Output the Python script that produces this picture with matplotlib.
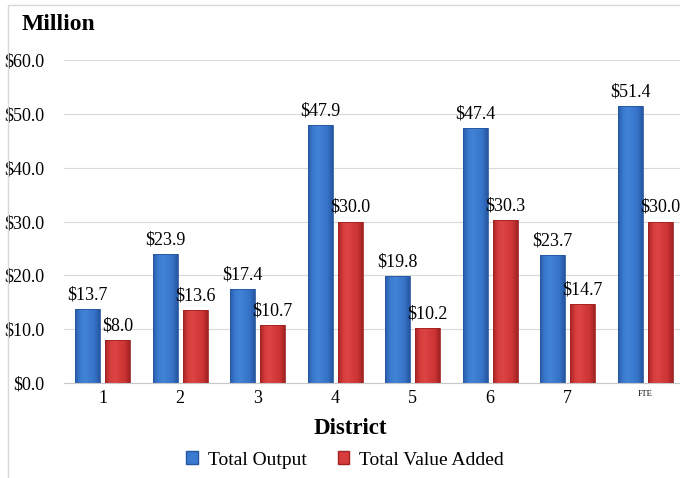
import numpy as np
import matplotlib.pyplot as plt
from matplotlib.patches import Rectangle, Patch
from matplotlib.colors import LinearSegmentedColormap

plt.rcParams['font.family'] = ['Liberation Serif', 'DejaVu Serif']

# data
districts = ['1', '2', '3', '4', '5', '6', '7', 'FTE']
total_output = [13.7, 23.9, 17.4, 47.9, 19.8, 47.4, 23.7, 51.4]
value_added = [8.0, 13.6, 10.7, 30.0, 10.2, 30.3, 14.7, 30.0]

blue_cmap = LinearSegmentedColormap.from_list(
    'b', ['#2a5ca8', '#3a7ad0', '#4384d6', '#3b7bd0', '#3572c6', '#2656a0'])
red_cmap = LinearSegmentedColormap.from_list(
    'r', ['#a82424', '#d63c3c', '#dc4444', '#d43a3a', '#cc3434', '#a02222'])

fig = plt.figure(figsize=(6.8, 4.78), dpi=100)
ax = fig.add_axes([64/680, 1 - 383/478, 620/680, 323/478])

x = np.arange(len(districts))
w = 0.32
off = 0.193
grad = np.linspace(0, 1, 64).reshape(1, -1)


def gradient_bars(xs, vals, cmap, edge):
    bars = ax.bar(xs, vals, w, color='none', edgecolor=edge, linewidth=0.6, zorder=3)
    for b in bars:
        bx, by = b.get_x(), b.get_y()
        bw, bh = b.get_width(), b.get_height()
        im = ax.imshow(grad, cmap=cmap, aspect='auto', extent=[bx, bx + bw, by, by + bh],
                       zorder=2.5, interpolation='bicubic')
        im.set_clip_path(b)
    return bars


b1 = gradient_bars(x - off, total_output, blue_cmap, '#2656a0')
b2 = gradient_bars(x + off, value_added, red_cmap, '#a02222')

for bars, vals in ((b1, total_output), (b2, value_added)):
    for b, v in zip(bars, vals):
        ax.annotate('$%.1f' % v, (b.get_x() + b.get_width() / 2, v), xytext=(0, 4),
                    textcoords='offset points', ha='center', va='bottom', fontsize=13, zorder=4)

ax.set_xlim(-0.5, len(districts) - 0.5)
ax.set_ylim(0, 60)
ax.set_yticks(np.arange(0, 61, 10))
ax.set_yticklabels(['$%.1f' % v for v in np.arange(0, 61, 10)], fontsize=13)
ax.set_xticks(x)
ax.set_xticklabels(districts, fontsize=13)
ax.get_xticklabels()[-1].set_fontsize(6)
ax.tick_params(axis='y', length=0, pad=14)
ax.tick_params(axis='x', length=0, pad=5)
ax.yaxis.grid(True, color='#d9d9d9', linewidth=0.8, zorder=0)
ax.set_axisbelow(True)
for s in ('top', 'right', 'left'):
    ax.spines[s].set_visible(False)
ax.spines['bottom'].set_color('#c8c8c8')

fig.text(22/680, 1 - 25/478, 'Million', fontsize=17, fontweight='bold', va='center', ha='left')
fig.text(350/680, 1 - 428/478, 'District', fontsize=16.5, fontweight='bold', va='center', ha='center')

handles = [Patch(facecolor='#3a7ad0', edgecolor='#2656a0'), Patch(facecolor='#d63c3c', edgecolor='#a02222')]
fig.legend(handles, ['Total Output', 'Total Value Added'], loc='center', bbox_to_anchor=(345/680, 1 - 460/478),
           ncol=2, frameon=False, fontsize=14, handlelength=0.6, handleheight=0.6, handletextpad=0.5,
           columnspacing=1.6)

# outer chart border
fig.patches.append(Rectangle((8/680, -0.05), 1.0, 1 - 5/478 + 0.05, transform=fig.transFigure,
                             fill=False, edgecolor='#d9d9d9', linewidth=1.0))

fig.savefig('out.png', dpi=100)
